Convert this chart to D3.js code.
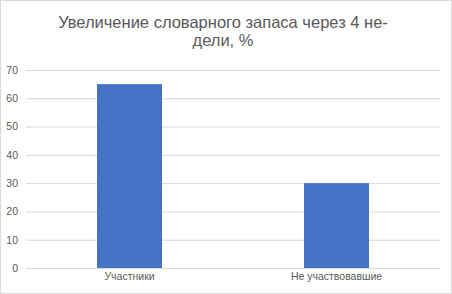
<!DOCTYPE html>
<html><head><meta charset="utf-8">
<script src="https://cdn.jsdelivr.net/npm/d3@7"></script>
<style>body{margin:0;background:#fff}svg{display:block}</style>
</head><body>
<script>
const categories = ["Участники", "Не участвовавшие"];
const values = [65, 30];
const yTicks = [0, 10, 20, 30, 40, 50, 60, 70];
const titleLines = ["Увеличение словарного запаса через 4 не-", "дели, %"];

const W = 452, H = 294;
const svg = d3.select("body").append("svg").attr("width", W).attr("height", H);
svg.append("rect").attr("x", 0.5).attr("y", 0.5).attr("width", W - 1).attr("height", H - 1)
  .attr("fill", "#fff").attr("stroke", "#d9d9d9");

const plotLeft = 26, plotRight = 440, plotTop = 70, plotBottom = 268;
const x = d3.scaleBand().domain(categories).range([plotLeft, plotRight]).paddingInner(0.686).paddingOuter(0.343);
const y = d3.scaleLinear().domain([0, 70]).range([plotBottom, plotTop]);

const font = "'Liberation Sans', Arial, sans-serif";

const ya = svg.append("g").attr("transform", `translate(${plotLeft},0)`)
  .call(d3.axisLeft(y).tickValues(yTicks).tickSize(-(plotRight - plotLeft)).tickFormat(d3.format("d")));
ya.select(".domain").remove();
ya.selectAll(".tick line").attr("stroke", "#d9d9d9");
ya.selectAll(".tick text").attr("x", -8).attr("fill", "#595959").style("font-family", font).style("font-size", "10.5px");

svg.append("g").selectAll("rect").data(values).join("rect")
  .attr("x", (d, i) => x(categories[i]))
  .attr("y", d => y(d))
  .attr("width", x.bandwidth())
  .attr("height", d => y(0) - y(d))
  .attr("fill", "#4472c4");

const xa = svg.append("g").attr("transform", `translate(0,${plotBottom})`)
  .call(d3.axisBottom(x).tickSize(0).tickPadding(5));
xa.select(".domain").remove();
xa.selectAll(".tick text").attr("fill", "#595959").style("font-family", font).style("font-size", "10.5px");

svg.append("g").selectAll("text").data(titleLines).join("text")
  .attr("x", 223).attr("y", (d, i) => 28 + i * 18)
  .attr("text-anchor", "middle")
  .attr("fill", "#595959")
  .style("font-family", font).style("font-size", "16.5px")
  .text(d => d);
</script>
</body></html>
